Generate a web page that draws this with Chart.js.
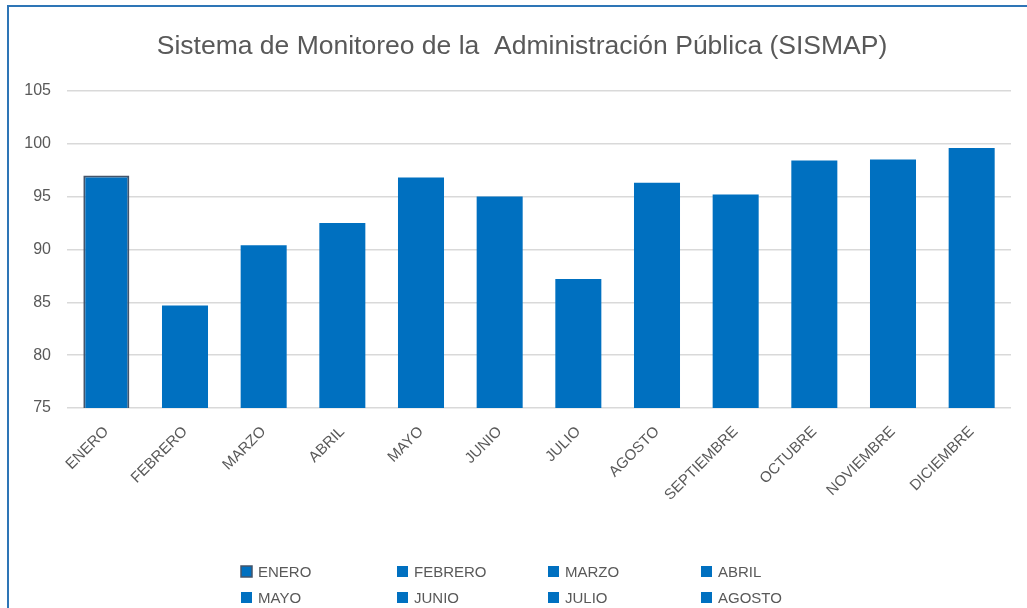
<!DOCTYPE html>
<html>
<head>
    <title>SISMAP</title>
    <script src="https://cdn.jsdelivr.net/npm/chart.js"></script>
    <style>
        html, body { margin: 0; padding: 0; background: #fff; }
        #wrap { width: 1027px; height: 608px; }
    </style>
</head>
<body>
    <div id="wrap"><canvas id="sismap-chart" width="1027" height="608"></canvas></div>

    <script>
        // data
        const months = ['ENERO', 'FEBRERO', 'MARZO', 'ABRIL', 'MAYO', 'JUNIO', 'JULIO',
            'AGOSTO', 'SEPTIEMBRE', 'OCTUBRE', 'NOVIEMBRE', 'DICIEMBRE'];
        const scores = [97.0, 84.7, 90.4, 92.5, 96.8, 95.0, 87.2, 96.3, 95.2, 98.4, 98.5, 99.6];
        const yTicks = [75, 80, 85, 90, 95, 100, 105];

        const blue = '#0070c0';
        const grey = '#595959';
        const fontFam = '"Liberation Sans", Arial, sans-serif';

        // first bar has the dark outline in the original
        const edgeColors = months.map((m, i) => i === 0 ? '#44546a' : blue);
        const edgeWidths = months.map((m, i) => i === 0 ? 2 : 0);

        // frame around the chart + white background
        const framePlugin = {
            id: 'frame',
            afterLayout(chart) {
                // the original title sits a bit right of the plot centre
                if (chart.titleBlock) chart.titleBlock.left = 33;
            },
            beforeDraw(chart) {
                const c = chart.ctx;
                c.save();
                c.fillStyle = '#fff';
                c.fillRect(0, 0, chart.width, chart.height);
                c.strokeStyle = '#2e75b6';
                c.lineWidth = 2;
                c.beginPath();
                c.moveTo(8, chart.height);
                c.lineTo(8, 6);
                c.lineTo(chart.width, 6);
                c.stroke();
                c.restore();
            }
        };

        // legend laid out in fixed columns like the spreadsheet one
        const gridLegend = {
            id: 'gridLegend',
            afterDraw(chart) {
                const c = chart.ctx;
                const cols = [241, 397, 548, 701];
                const rows = [572, 598, 624];
                c.save();
                c.font = '15px ' + fontFam;
                c.textBaseline = 'middle';
                months.forEach((m, i) => {
                    const x = cols[i % 4];
                    const y = rows[Math.floor(i / 4)];
                    c.fillStyle = blue;
                    c.fillRect(x, y - 6, 11, 11);
                    if (edgeWidths[i]) {
                        c.strokeStyle = edgeColors[i];
                        c.lineWidth = 1.5;
                        c.strokeRect(x, y - 6, 11, 11);
                    }
                    c.fillStyle = grey;
                    c.fillText(m, x + 17, y + 1);
                });
                c.restore();
            }
        };

        const ctx = document.getElementById('sismap-chart').getContext('2d');
        new Chart(ctx, {
            type: 'bar',
            data: {
                labels: months,
                datasets: [{
                    label: 'SISMAP',
                    data: scores,
                    backgroundColor: blue,
                    borderColor: edgeColors,
                    borderWidth: edgeWidths,
                    barPercentage: 0.585,
                    categoryPercentage: 1.0
                }]
            },
            options: {
                responsive: false,
                animation: false,
                layout: { padding: { left: 0, right: 16, top: 0, bottom: 0 } },
                plugins: {
                    legend: { display: false },
                    tooltip: { enabled: false },
                    title: {
                        display: true,
                        text: 'Sistema de Monitoreo de la  Administración Pública (SISMAP)',
                        color: grey,
                        font: { family: fontFam, size: 26.5, weight: 'normal' },
                        padding: { top: 31, bottom: 28 }
                    }
                },
                scales: {
                    x: {
                        grid: { display: false },
                        border: { display: false },
                        ticks: {
                            color: grey,
                            font: { family: fontFam, size: 15 },
                            minRotation: 45,
                            maxRotation: 45,
                            padding: 7
                        },
                        afterFit(scale) { scale.height = 200; }
                    },
                    y: {
                        min: 75,
                        max: 105,
                        afterBuildTicks(scale) { scale.ticks = yTicks.map(v => ({ value: v })); },
                        grid: { color: '#d9d9d9', lineWidth: 1.5, drawTicks: false },
                        border: { display: false },
                        ticks: {
                            color: grey,
                            font: { family: fontFam, size: 16 },
                            padding: 16
                        },
                        afterFit(scale) { scale.width = 67; }
                    }
                }
            },
            plugins: [framePlugin, gridLegend]
        });
    </script>
</body>
</html>
